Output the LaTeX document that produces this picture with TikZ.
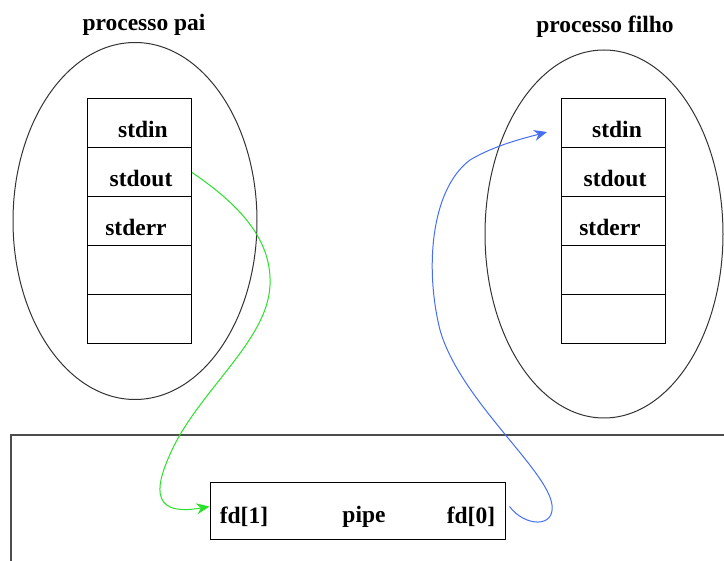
\documentclass[tikz,border=0pt]{standalone}
\usepackage{fontspec}
\setmainfont{Liberation Serif}
\usetikzlibrary{shapes.geometric,arrows.meta}
\definecolor{gline}{RGB}{40,225,40}
\definecolor{bline}{RGB}{70,110,240}
\begin{document}
\begin{tikzpicture}[x=1pt,y=-1pt,
  every node/.style={font=\fontsize{23.5}{26}\selectfont\bfseries, inner sep=0pt},
  proc/.style={ellipse, draw=black!80, line width=1pt},
  cell/.style={draw=black, line width=1pt, minimum width=104pt, minimum height=49pt},
  lbl/.style={},
  conn/.style={line width=1pt, -{Stealth[length=13pt,width=11pt]}}]
\useasboundingbox (0,0) rectangle (724,561);
% titles
\node[lbl] (tpai) at (144,25) {processo pai};
\node[lbl] (tfilho) at (605,27) {processo filho};
% ellipses
\node[proc, minimum width=244pt, minimum height=357pt] (pai) at (135,221) {};
\node[proc, minimum width=238pt, minimum height=368pt] (filho) at (604,234) {};
% left table
\node[cell] (l1) at (139.5,123.5) {};
\node[cell] (l2) at (139.5,172.5) {};
\node[cell] (l3) at (139.5,221.5) {};
\node[cell] (l4) at (139.5,270.5) {};
\node[cell] (l5) at (139.5,319.5) {};
\node[lbl] (l1t) at (143,129) {stdin};
\node[lbl] (l2t) at (141,178) {stdout};
\node[lbl] (l3t) at (136,227) {stderr};
% right table
\node[cell] (r1) at (613.5,123.5) {};
\node[cell] (r2) at (613.5,172.5) {};
\node[cell] (r3) at (613.5,221.5) {};
\node[cell] (r4) at (613.5,270.5) {};
\node[cell] (r5) at (613.5,319.5) {};
\node[lbl] (r1t) at (617,129) {stdin};
\node[lbl] (r2t) at (615,178) {stdout};
\node[lbl] (r3t) at (610,227) {stderr};
% kernel area
\draw[black!70, line width=1.1pt] (11,561) -- (11,435) -- (724,435);
% pipe box
\node[draw=black, line width=1pt, minimum width=295pt, minimum height=57pt] (pipe) at (357.5,511.5) {};
\node[lbl] (fd1) at (244,517) {fd[1]};
\node[lbl] (pipet) at (364,517) {pipe};
\node[lbl] (fd0) at (471,517) {fd[0]};
% connectors
\coordinate (gend) at ([yshift=5pt]pipe.west);
\coordinate (bstart) at ([xshift=4pt,yshift=5pt]pipe.east);
\coordinate (bend) at (547,132);
\draw[conn, gline] (l2.east) .. controls (240,205) and (272,240) .. (270,285)
  .. controls (268,340) and (200,390) .. (172,450)
  .. controls (158,480) and (145,518) .. (gend);
\draw[conn, bline] (bstart) .. controls (525,527) and (555,528) .. (552,505)
  .. controls (548,470) and (460,400) .. (440,330)
  .. controls (425,270) and (430,190) .. (470,160)
  .. controls (495,145) and (525,138) .. (bend);
\end{tikzpicture}
\end{document}
